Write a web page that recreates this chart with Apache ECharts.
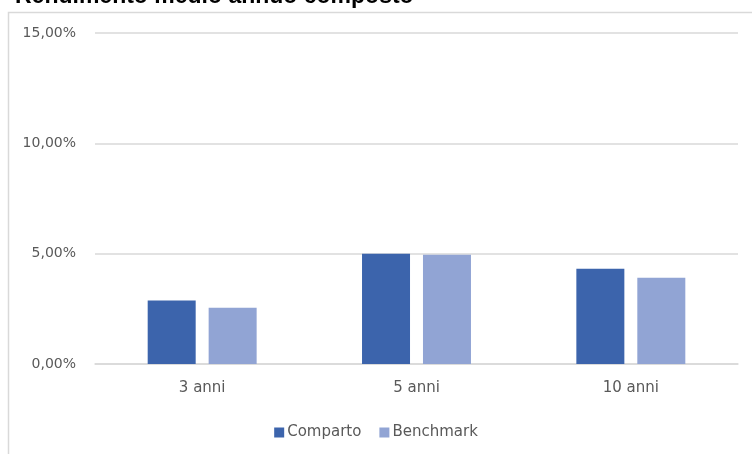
<!DOCTYPE html>
<html><head><meta charset="utf-8">
<script src="https://cdn.jsdelivr.net/npm/echarts@6/dist/echarts.min.js"></script>
<style>html,body{margin:0;padding:0;background:#fff}#c{width:752px;height:454px}</style>
</head><body><div id="c"></div>
<script>
const categories = ['3 anni', '5 anni', '10 anni'];
const comparto = [2.88, 5.00, 4.32];
const benchmark = [2.55, 4.95, 3.91];
const seriesNames = ['Comparto', 'Benchmark'];
const titleText = 'Rendimento medio annuo composto';

const chart = echarts.init(document.getElementById('c'), null, {renderer: 'canvas'});
chart.setOption({
  animation: false,
  backgroundColor: '#fff',
  title: {
    text: titleText, left: 10, top: -20,
    textStyle: {fontFamily: 'Liberation Sans, Arial', fontWeight: 'bold', fontSize: 23, color: '#000'}
  },
  graphic: [{
    type: 'rect', left: 6, top: 10, shape: {width: 800, height: 500},
    style: {fill: 'none', stroke: '#d9d9d9', lineWidth: 1.5}, silent: true
  }],
  legend: {
    bottom: 9, left: 'center', itemWidth: 10, itemHeight: 10, itemGap: 18,
    icon: 'rect',
    textStyle: {fontFamily: 'DejaVu Sans', fontSize: 15, color: '#595959', padding: [0, 0, 0, -2]},
    data: seriesNames
  },
  grid: {left: 95, right: 14, top: 33, bottom: 90},
  xAxis: {
    type: 'category', data: categories,
    axisLine: {show: true, lineStyle: {color: '#d9d9d9', width: 1.5}},
    axisTick: {show: false},
    axisLabel: {fontFamily: 'DejaVu Sans', fontSize: 15, color: '#595959', margin: 17}
  },
  yAxis: {
    type: 'value', min: 0, max: 15, interval: 5,
    axisLine: {show: false}, axisTick: {show: false},
    splitLine: {lineStyle: {color: '#d9d9d9', width: 1.5}},
    axisLabel: {
      fontFamily: 'DejaVu Sans', fontSize: 14, color: '#595959', margin: 19,
      formatter: v => v.toFixed(2).replace('.', ',') + '%'
    }
  },
  series: [
    {name: seriesNames[0], type: 'bar', data: comparto, itemStyle: {color: '#3c64ac'}, barWidth: 48, barGap: '27%'},
    {name: seriesNames[1], type: 'bar', data: benchmark, itemStyle: {color: '#91a4d4'}, barWidth: 48, barGap: '27%'}
  ]
});
</script></body></html>
